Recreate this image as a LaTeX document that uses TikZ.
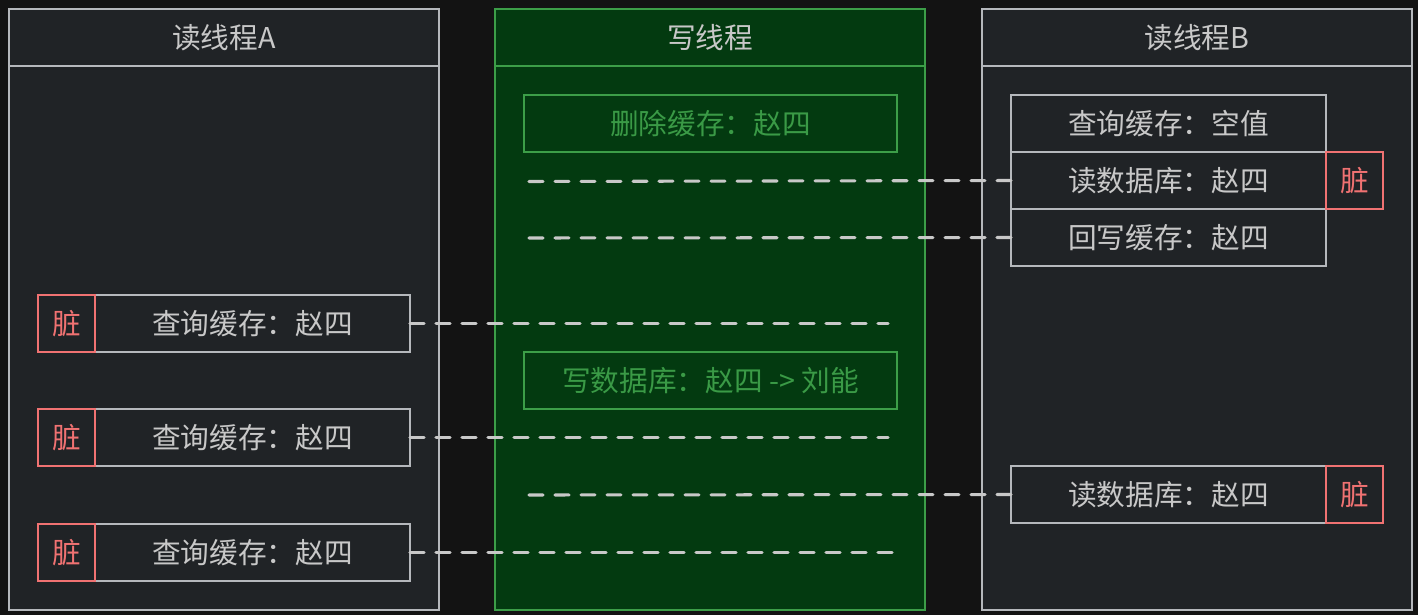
\documentclass[tikz,border=0pt]{standalone}
\usepackage{fontspec}
\setmainfont{Noto Sans CJK SC}
\definecolor{bgc}{HTML}{131313}
\definecolor{panelc}{HTML}{202326}
\definecolor{grayc}{HTML}{B5B8BC}
\definecolor{textc}{HTML}{C8C8C8}
\definecolor{gfill}{HTML}{033A10}
\definecolor{gline}{HTML}{3C9E48}
\definecolor{gtext}{HTML}{3A9A46}
\definecolor{redc}{HTML}{F07272}
\begin{document}
\begin{tikzpicture}[x=0.75pt,y=-0.75pt,
  every node/.style={inner sep=0pt,outer sep=0pt,font=\fontsize{21.5}{25}\selectfont},
  graypanel/.style={draw=grayc,fill=panelc,line width=1.5pt,text=textc},
  greenpanel/.style={draw=gline,fill=gfill,line width=1.5pt,text=textc},
  hdr/.style={minimum width=322.5pt,minimum height=42.75pt},
  bodyp/.style={minimum width=322.5pt,minimum height=408pt},
  qbox/.style={draw=grayc,line width=1.5pt,text=textc,minimum width=236.25pt,minimum height=42.75pt},
  wbox/.style={draw=gline,line width=1.5pt,text=gtext,minimum width=279.75pt,minimum height=42.75pt},
  dirty/.style={draw=redc,line width=1.5pt,text=redc,minimum width=42.75pt,minimum height=42.75pt},
  link/.style={draw=textc,line width=2.3pt,dash pattern=on 10.5pt off 9pt,line cap=round}]
\useasboundingbox (0,0) rectangle (1418,615);
\fill[bgc] (0,0) rectangle (1418,615);
% panels
\node[graypanel,bodyp] (pab) at (224,338) {};
\node[graypanel,hdr] (pah) at (224,37.5) {读线程A};
\node[greenpanel,bodyp] (pwb) at (710,338) {};
\node[greenpanel,hdr] (pwh) at (710,37.5) {写线程};
\node[graypanel,bodyp] (pbb) at (1197,338) {};
\node[graypanel,hdr] (pbh) at (1197,37.5) {读线程B};
% write thread
\node[wbox] (w1) at (710.5,123.5) {删除缓存：赵四};
\node[wbox] (w2) at (710.5,380.5) {写数据库：赵四 -> 刘能};
% coordinates for free ends
\coordinate (e1) at (522,181.5);
\coordinate (e2) at (522,238);
\coordinate (e3) at (888,323.5);
\coordinate (e4) at (888,437.5);
\coordinate (e5) at (524,495);
\coordinate (e6) at (892,552.5);
% thread B
\node[qbox] (b1) at (1168.5,123.5) {查询缓存：空值};
\node[qbox] (b2) at (1168.5,180.5) {读数据库：赵四};
\node[qbox] (b3) at (1168.5,237.5) {回写缓存：赵四};
\node[dirty] (bd1) at (1354.5,180.5) {脏};
\node[qbox] (b4) at (1168.5,494.5) {读数据库：赵四};
\node[dirty] (bd2) at (1354.5,494.5) {脏};
% thread A
\node[qbox] (a1) at (252.5,323.5) {查询缓存：赵四};
\node[dirty] (ad1) at (66.5,323.5) {脏};
\node[qbox] (a2) at (252.5,437.5) {查询缓存：赵四};
\node[dirty] (ad2) at (66.5,437.5) {脏};
\node[qbox] (a3) at (252.5,552.5) {查询缓存：赵四};
\node[dirty] (ad3) at (66.5,552.5) {脏};
% dashed connectors
\draw[link] (b2.west) -- (e1);
\draw[link] (b3.west) -- (e2);
\draw[link] (a1.east) -- (e3);
\draw[link] (a2.east) -- (e4);
\draw[link] (b4.west) -- (e5);
\draw[link] (a3.east) -- (e6);
\end{tikzpicture}
\end{document}
